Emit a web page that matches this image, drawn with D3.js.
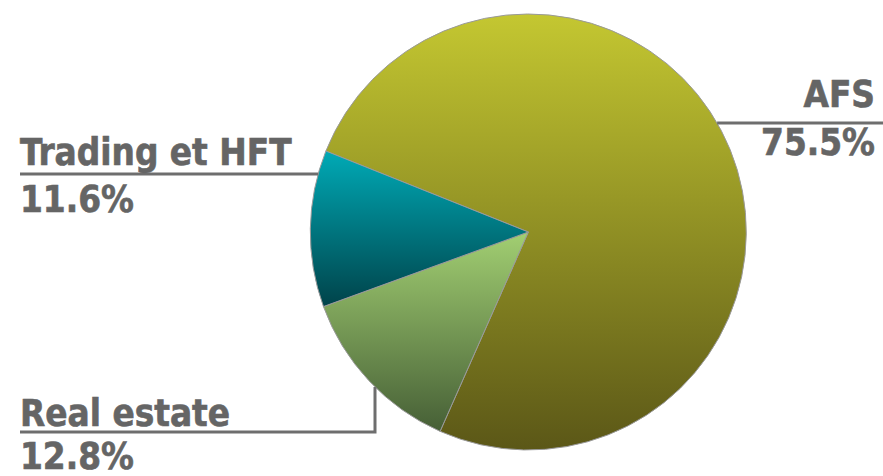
<!DOCTYPE html>
<html>
<head>
<meta charset="utf-8">
<script src="https://cdn.jsdelivr.net/npm/d3@7"></script>
<style>
  html, body { margin: 0; padding: 0; background: #fff; }
  svg { display: block; }
  .lbl { font-family: "DejaVu Sans Condensed", "DejaVu Sans", sans-serif; font-stretch: condensed; font-weight: bold; font-size: 36.5px; fill: #656565; stroke: #656565; stroke-width: 0.6px; }
</style>
</head>
<body>
<svg id="chart" width="883" height="476"></svg>
<script>
// ---- data ----
const categories = ["AFS", "Real estate", "Trading et HFT"];
const values = [75.5, 12.8, 11.6];
const percentLabels = ["75.5%", "12.8%", "11.6%"];
const gradientTops = ["#c4c731", "#a2cf72", "#00aab6"];
const gradientBottoms = ["#5b5717", "#465f36", "#00434a"];

// ---- layout ----
const W = 883, H = 476;
const cx = 528.3, cy = 232, R = 218;
const startDeg = -68.2;

const svg = d3.select("#chart");
const defs = svg.append("defs");
categories.forEach((c, i) => {
  const g = defs.append("linearGradient")
    .attr("id", "grad" + i)
    .attr("x1", 0).attr("y1", 0).attr("x2", 0).attr("y2", 1);
  g.append("stop").attr("offset", "0%").attr("stop-color", gradientTops[i]);
  g.append("stop").attr("offset", "100%").attr("stop-color", gradientBottoms[i]);
});

const a0 = startDeg * Math.PI / 180;
const pie = d3.pie().sort(null).value(d => d)
  .startAngle(a0).endAngle(a0 + 2 * Math.PI);
const arc = d3.arc().innerRadius(0).outerRadius(R);
const arcs = pie(values);

const gPie = svg.append("g").attr("transform", `translate(${cx},${cy})`);
gPie.selectAll("path").data(arcs).enter().append("path")
  .attr("d", arc)
  .attr("fill", (d, i) => `url(#grad${i})`)
  .attr("stroke", "#9a9a9a")
  .attr("stroke-width", 1);

// ---- labels & leader lines ----
const lineColor = "#6e6e6e";
const edgeXAtY = (y, side) => cx + side * Math.sqrt(R * R - (y - cy) * (y - cy));
const edgeYAtX = (x, side) => cy + side * Math.sqrt(R * R - (x - cx) * (x - cx));

const labelLayout = [
  { x: 875, anchor: "end", nameY: 107, lineY: 123, pctY: 155 },
  { x: 20, anchor: "start", nameY: 426, lineY: 432, pctY: 469, elbowX: 375 },
  { x: 20, anchor: "start", nameY: 165, lineY: 174, pctY: 212 }
];

const gl = svg.append("g");
// AFS
{
  const L = labelLayout[0];
  gl.append("path").attr("d", `M${edgeXAtY(L.lineY, 1)},${L.lineY}H${W}`)
    .attr("stroke", lineColor).attr("stroke-width", 3).attr("fill", "none");
}
// Real estate
{
  const L = labelLayout[1];
  gl.append("path").attr("d", `M${L.x},${L.lineY}H${L.elbowX}V${edgeYAtX(L.elbowX, 1)}`)
    .attr("stroke", lineColor).attr("stroke-width", 3).attr("fill", "none");
}
// Trading
{
  const L = labelLayout[2];
  gl.append("path").attr("d", `M${L.x},${L.lineY}H${edgeXAtY(L.lineY, -1)}`)
    .attr("stroke", lineColor).attr("stroke-width", 3).attr("fill", "none");
}

labelLayout.forEach((L, i) => {
  gl.append("text").attr("class", "lbl").attr("x", L.x).attr("y", L.nameY)
    .attr("text-anchor", L.anchor).text(categories[i]);
  gl.append("text").attr("class", "lbl").attr("x", L.x).attr("y", L.pctY)
    .attr("text-anchor", L.anchor).text(percentLabels[i]);
});
</script>
</body>
</html>
